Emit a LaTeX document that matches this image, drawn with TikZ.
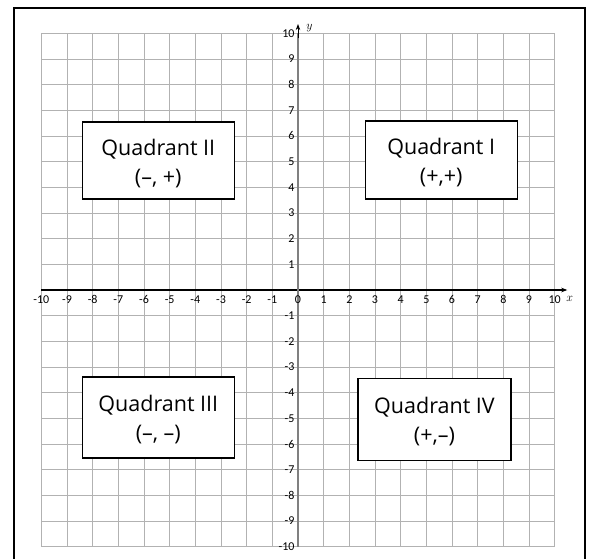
\documentclass[tikz,border=0pt]{standalone}
\usepackage{fontspec}
\setmainfont{Open Sans}
\newfontfamily\tickfont{Carlito}
\usetikzlibrary{arrows.meta}
\tikzset{
  gridline/.style={draw=black!30, line width=0.8pt},
  qbox/.style={draw=black, line width=1.3pt, fill=white, inner sep=0pt},
  qtext/.style={align=center, inner sep=0pt, font=\fontsize{21.5}{29}\selectfont},
  xtick/.style={font=\tickfont\fontsize{12}{13}\selectfont, inner sep=0pt},
  ytick/.style={font=\tickfont\fontsize{12}{13}\selectfont, inner sep=0pt, anchor=east},
  axlabel/.style={font=\fontsize{12}{13}\selectfont, inner sep=0pt},
}
\begin{document}
\begin{tikzpicture}[x=1pt,y=-1pt]
\useasboundingbox (0,0) rectangle (595,558);
\fill[white] (0,0) rectangle (595,558);
\draw[line width=2pt] (13.7,7.5) rectangle (584.5,575);
\begin{scope}[xshift=298pt, yshift=-290pt, x=25.67pt, y=25.67pt]
  \foreach \i in {-10,...,10} {
    \draw[gridline] (\i,-10) -- (\i,10);
    \draw[gridline] (-10,\i) -- (10,\i);
  }
  \coordinate (xs) at (-10,0);
  \coordinate (xe) at (10.49,0);
  \coordinate (ys) at (0,-10);
  \coordinate (ye) at (0,10.36);
  \coordinate (yeb) at (0,10.0);
  \draw[black, line width=1.1pt, -{Stealth[length=6pt,width=4.5pt]}] (xs) -- (xe);
  \draw[black!50, line width=1.8pt] (ys) -- (yeb);
  \draw[black, line width=0.8pt, -{Stealth[length=6pt,width=4.5pt]}] (0,9.8) -- (ye);
  \foreach \i in {-10,...,10} {
    \node[xtick] (xl\i) at (\i,-0.36) {\i};
  }
  \foreach \j in {-10,...,-1,1,2,...,10} {
    \node[ytick] (yl\j) at (-0.13,\j) {\j};
  }
  \node[axlabel] (xlab) at (10.58,-0.36) {$x$};
  \node[axlabel] (ylab) at (0.45,10.2) {$y$};
\end{scope}
\node[qbox, minimum width=152pt, minimum height=77pt] (q2) at (158.3,160.6) {};
\node[qtext] (t2) at (158.3,164) {Quadrant II\\(–, +)};
\node[qbox, minimum width=152pt, minimum height=78pt] (q1) at (441.2,159.9) {};
\node[qtext] (t1) at (441.2,163) {Quadrant I\\(+,+)};
\node[qbox, minimum width=152pt, minimum height=81pt] (q3) at (158.3,417.5) {};
\node[qtext] (t3) at (158.3,420) {Quadrant III\\(–, –)};
\node[qbox, minimum width=153pt, minimum height=82pt] (q4) at (434.5,419.5) {};
\node[qtext] (t4) at (434.5,422) {Quadrant IV\\(+,–)};
\end{tikzpicture}
\end{document}
